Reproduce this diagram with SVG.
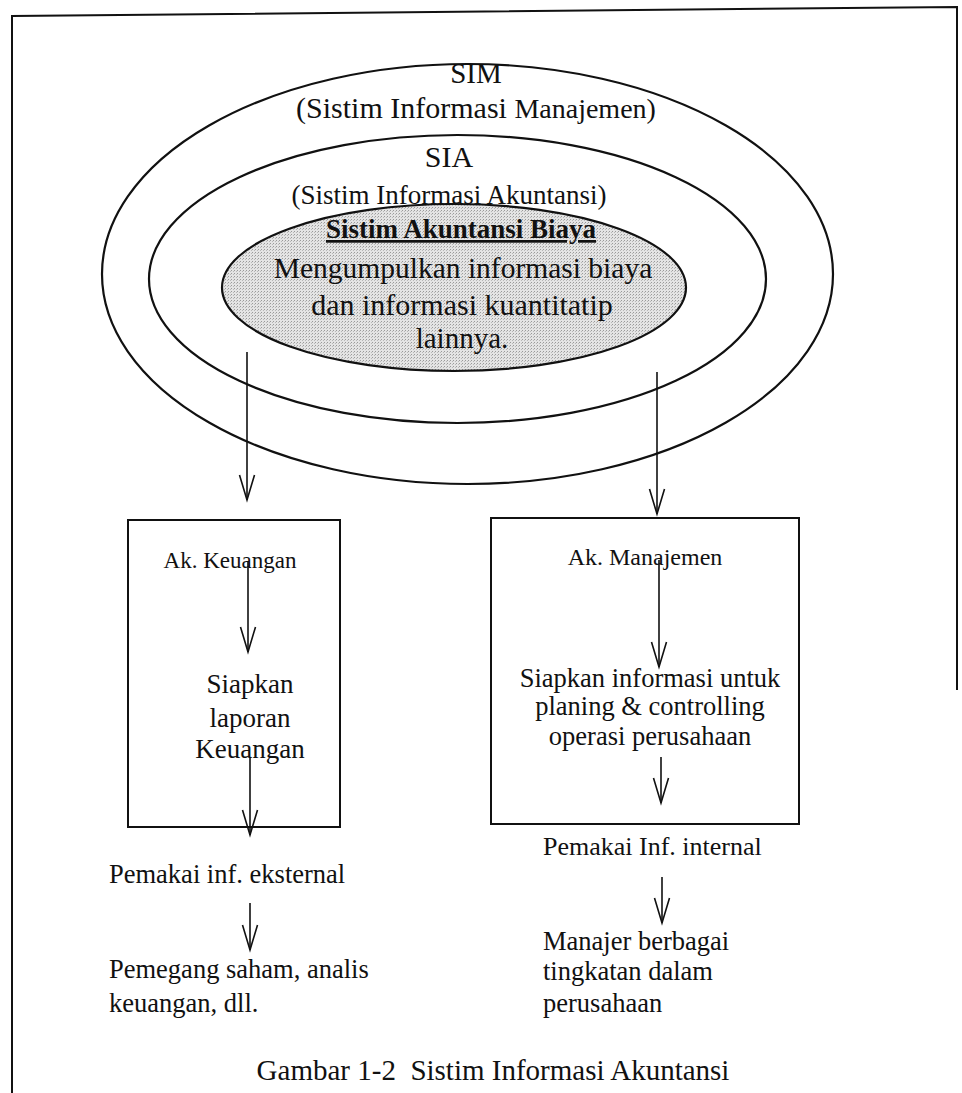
<svg xmlns="http://www.w3.org/2000/svg" width="962" height="1093" viewBox="0 0 962 1093">
<defs>
<style>
.t{font-family:"Liberation Serif","Times New Roman",serif;fill:#111}
.m{text-anchor:middle}
.el{fill:none;stroke:#111;stroke-width:2.2}
.bx{fill:none;stroke:#111;stroke-width:2}
.cn{fill:none;stroke:#111;stroke-width:1.6}
</style>
<pattern id="stip" width="3" height="3" patternUnits="userSpaceOnUse">
<rect width="3" height="3" fill="#e4e4e4"/>
<rect x="0" y="0" width="1" height="1" fill="#9a9a9a"/>
<rect x="2" y="1" width="1" height="1" fill="#b8b8b8"/>
</pattern>
<marker id="v" markerUnits="userSpaceOnUse" markerWidth="40" markerHeight="30" refX="0" refY="0" orient="auto" overflow="visible">
<path d="M-25,-7.5 L0,0 L-25,7.5" fill="none" stroke="#111" stroke-width="1.6"/>
</marker>
</defs>
<rect width="962" height="1093" fill="#fff"/>
<g id="frame">
<polyline points="12,1093 12,16 957,7 957,690" fill="none" stroke="#111" stroke-width="2"/>
</g>
<g id="sim">
<ellipse class="el" cx="467.5" cy="274" rx="365.5" ry="210"/>
<text class="t m" x="476" y="83" font-size="29">SIM</text>
<text class="t m" x="476" y="118" font-size="30">(Sistim Informasi <tspan font-size="28">Manajemen)</tspan></text>
</g>
<g id="sia">
<ellipse class="el" cx="457.5" cy="279" rx="308.5" ry="144"/>
<text class="t m" x="449" y="167" font-size="30">SIA</text>
<text class="t m" x="449" y="204" font-size="27">(Sistim Informasi Akuntansi)</text>
</g>
<g id="sab">
<ellipse cx="454" cy="287.5" rx="232" ry="83.5" fill="url(#stip)" stroke="#111" stroke-width="2.2"/>
<text class="t m" x="461" y="238" font-size="27" font-weight="bold" text-decoration="underline">Sistim Akuntansi Biaya</text>
<text class="t m" x="463" y="278" font-size="29.5">Mengumpulkan informasi biaya</text>
<text class="t m" x="462" y="315" font-size="30">dan informasi kuantitatip</text>
<text class="t m" x="462" y="348" font-size="29">lainnya.</text>
</g>
<g id="ak-keuangan">
<rect class="bx" x="128" y="520" width="212" height="307"/>
<text class="t m" x="230" y="568" font-size="23">Ak. Keuangan</text>
<text class="t m" x="250" y="693" font-size="27">Siapkan</text>
<text class="t m" x="250" y="727" font-size="27">laporan</text>
<text class="t m" x="250" y="758" font-size="27">Keuangan</text>
</g>
<g id="ak-manajemen">
<rect class="bx" x="491" y="518" width="308" height="306"/>
<text class="t m" x="645" y="565" font-size="24">Ak. Manajemen</text>
<text class="t m" x="650" y="687" font-size="26.5">Siapkan informasi untuk</text>
<text class="t m" x="650" y="715" font-size="26.5">planing &amp; controlling</text>
<text class="t m" x="650" y="745" font-size="26.5">operasi perusahaan</text>
</g>
<g id="pemakai-eksternal">
<text class="t" x="109" y="883" font-size="26.5">Pemakai inf. eksternal</text>
</g>
<g id="pemegang-saham">
<text class="t" x="109" y="978" font-size="26.5">Pemegang saham, analis</text>
<text class="t" x="109" y="1012" font-size="26.5">keuangan, dll.</text>
</g>
<g id="pemakai-internal">
<text class="t" x="543" y="855" font-size="26">Pemakai Inf. internal</text>
</g>
<g id="manajer">
<text class="t" x="543" y="950" font-size="26.5">Manajer berbagai</text>
<text class="t" x="543" y="980" font-size="26.5">tingkatan dalam</text>
<text class="t" x="543" y="1012" font-size="26.5">perusahaan</text>
</g>
<g id="caption">
<text class="t m" x="493" y="1080" font-size="29">Gambar 1-2&#160; Sistim Informasi Akuntansi</text>
</g>
<g id="connectors">
<line class="cn" x1="247" y1="352" x2="247" y2="500" marker-end="url(#v)"/>
<line class="cn" x1="657" y1="372" x2="657" y2="514" marker-end="url(#v)"/>
<line class="cn" x1="248" y1="562" x2="248" y2="652" marker-end="url(#v)"/>
<line class="cn" x1="250" y1="757" x2="250" y2="835" marker-end="url(#v)"/>
<line class="cn" x1="659" y1="560" x2="659" y2="667" marker-end="url(#v)"/>
<line class="cn" x1="661" y1="757" x2="661" y2="803" marker-end="url(#v)"/>
<line class="cn" x1="662" y1="877" x2="662" y2="923" marker-end="url(#v)"/>
<line class="cn" x1="250" y1="903" x2="250" y2="950" marker-end="url(#v)"/>
</g>
</svg>
